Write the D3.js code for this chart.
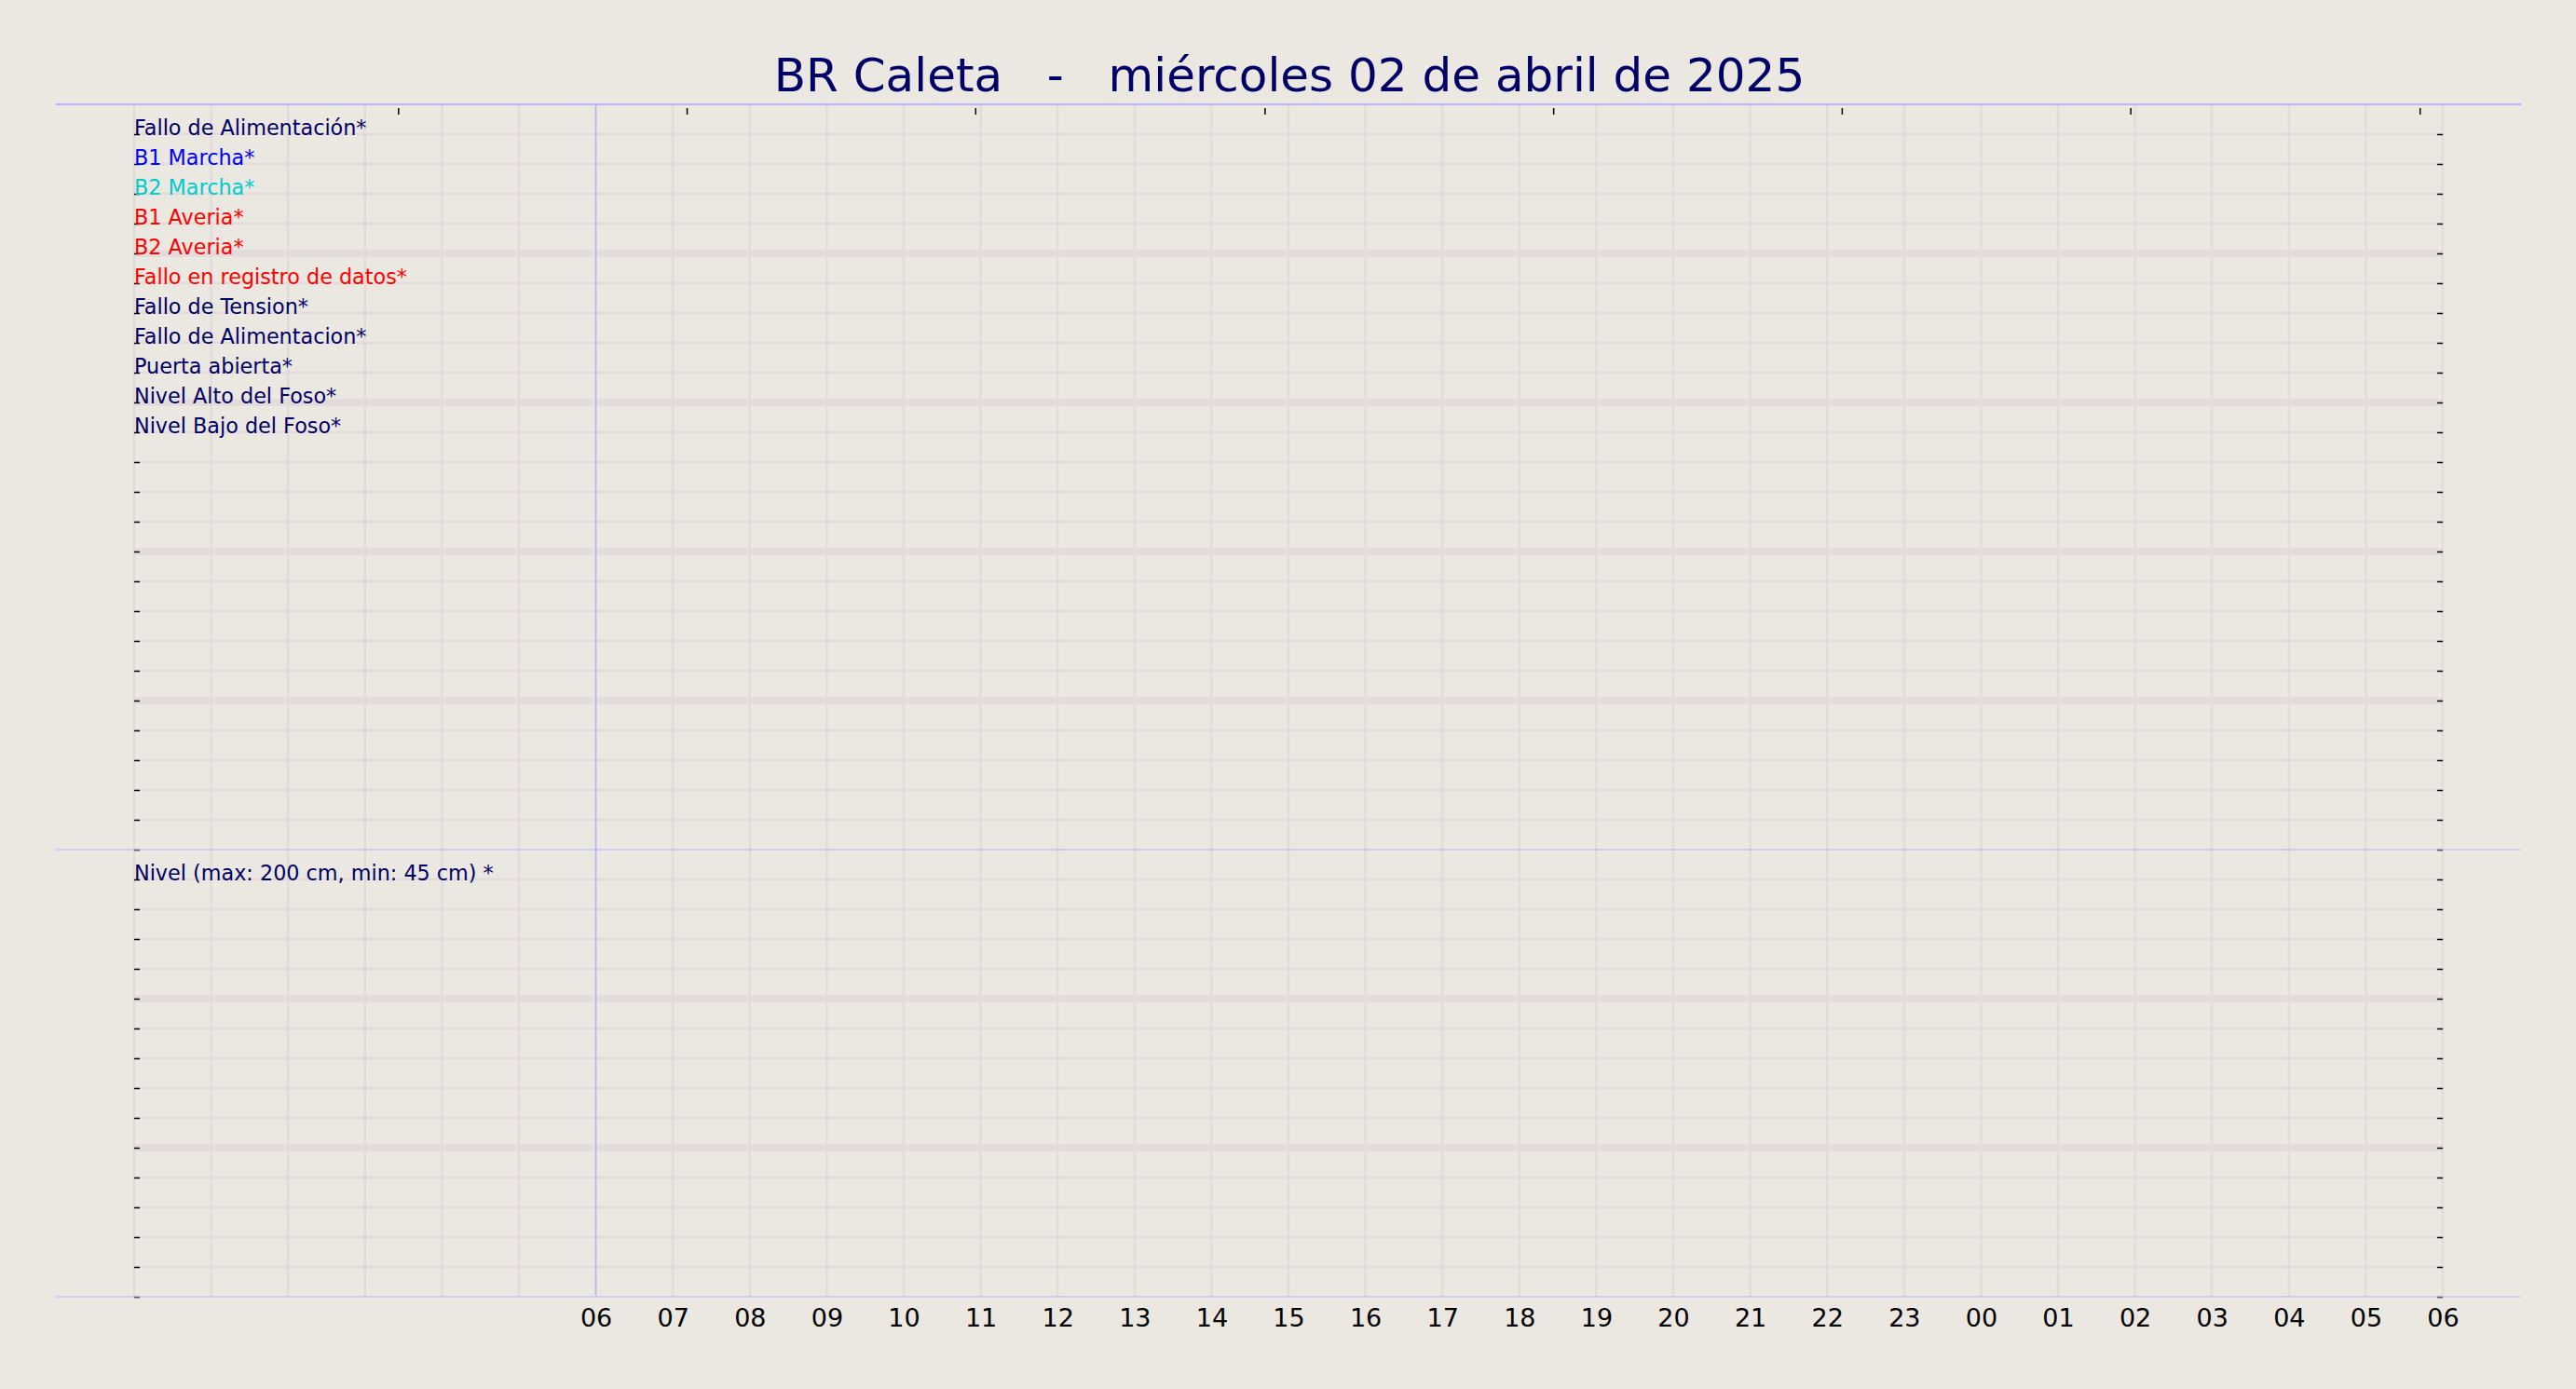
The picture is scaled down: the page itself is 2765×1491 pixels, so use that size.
<!DOCTYPE html>
<html>
<head>
<meta charset="utf-8">
<script src="https://cdn.jsdelivr.net/npm/d3@7"></script>
<style>
  body { margin: 0; background: #ebe7e1; }
  svg { display: block; font-family: "DejaVu Sans", sans-serif; }
</style>
</head>
<body>
<svg id="chart" width="2765" height="1491"></svg>
<script>
// chart data
const chartTitle = "BR Caleta   -   miércoles 02 de abril de 2025";
const signalNames = [
    "Fallo de Alimentación*", "B1 Marcha*", "B2 Marcha*", "B1 Averia*", "B2 Averia*",
    "Fallo en registro de datos*", "Fallo de Tension*", "Fallo de Alimentacion*",
    "Puerta abierta*", "Nivel Alto del Foso*", "Nivel Bajo del Foso*"
];
const signalColors = [
    "#000066", "#0000ff", "#00cccc", "#ff0000", "#ff0000",
    "#ff0000", "#000066", "#000066", "#000066", "#000066", "#000066"
];
const levelLabel = "Nivel (max: 200 cm, min: 45 cm) *";
const hourTicks = [6, 7, 8, 9, 10, 11, 12, 13, 14, 15, 16, 17, 18, 19, 20, 21, 22, 23, 24, 25, 26, 27, 28, 29, 30];
const hourLabels = ["06", "07", "08", "09", "10", "11", "12", "13", "14", "15", "16", "17", "18",
                    "19", "20", "21", "22", "23", "00", "01", "02", "03", "04", "05", "06"];
const topTicks = [3.43, 7.18, 10.93, 14.69, 18.44, 22.19, 25.94, 29.70];
const signalRows = 25;
const levelRows = 15;

const svg = d3.select("#chart");
const bg = "#ebe7e1";
const gridColor = "#e1dcdb";
const lineColor = "#b4b4ff";

let x = d3.scaleLinear().domain([0, 30]).range([144, 2622]);
let ySig = d3.scaleLinear().domain([0, signalRows]).range([112, 912]);
let yLev = d3.scaleLinear().domain([0, levelRows]).range([912, 1392]);

svg.append("rect").attr("width", 2765).attr("height", 1491).attr("fill", bg);

// grid
let grid = svg.append("g");
grid.selectAll(".vgrid")
    .data(d3.range(0, 31))
    .enter()
    .append("line")
    .attr("x1", d => x(d)).attr("x2", d => x(d))
    .attr("y1", 112).attr("y2", 1392)
    .attr("stroke", gridColor)
    .attr("stroke-width", 2.5);

function hRows(scale, n) {
    grid.append("g")
        .selectAll("line")
        .data(d3.range(1, n))
        .enter()
        .append("line")
        .attr("x1", x(0)).attr("x2", x(30))
        .attr("y1", d => scale(d)).attr("y2", d => scale(d))
        .attr("stroke", gridColor)
        .attr("stroke-width", d => d % 5 == 0 ? 7 : 2.5);
}
hRows(ySig, signalRows);
hRows(yLev, levelRows);

// inner ticks
function ticks(axis, tx, ty) {
    let g = svg.append("g")
        .attr("transform", "translate(" + tx + "," + ty + ")")
        .call(axis);
    g.select(".domain").remove();
    g.selectAll("line").attr("stroke", "#000").attr("stroke-width", 1.5);
    g.selectAll("text").remove();
}
ticks(d3.axisRight(ySig).tickValues(d3.range(1, signalRows)).tickSize(6), 144, 0);
ticks(d3.axisLeft(ySig).tickValues(d3.range(1, signalRows)).tickSize(6), 2622, 0);
ticks(d3.axisRight(yLev).tickValues(d3.range(0, levelRows + 1)).tickSize(6), 144, 0);
ticks(d3.axisLeft(yLev).tickValues(d3.range(0, levelRows + 1)).tickSize(6), 2622, 0);
ticks(d3.axisBottom(x).tickValues(topTicks).tickSize(7), 0, 116);

// frame lines
svg.append("line")
    .attr("x1", x(6)).attr("x2", x(6))
    .attr("y1", 112).attr("y2", 1390)
    .attr("stroke", lineColor).attr("stroke-width", 1.5);
[[112, 2], [912, 1.2], [1392, 1.2]].forEach(function(l) {
    svg.append("line")
        .attr("x1", 60).attr("x2", 2706)
        .attr("y1", l[0]).attr("y2", l[0])
        .attr("stroke", lineColor).attr("stroke-width", l[1]);
});

// hour axis
let xAxis = svg.append("g")
    .attr("transform", "translate(0,1392)")
    .call(d3.axisBottom(x).tickValues(hourTicks)
        .tickFormat((d, i) => hourLabels[i])
        .tickSize(0).tickPadding(13));
xAxis.select(".domain").remove();
xAxis.selectAll("text")
    .attr("font-family", "DejaVu Sans")
    .attr("font-size", 27)
    .attr("fill", "#000");

// signal labels
svg.append("g")
    .selectAll("text")
    .data(signalNames)
    .enter()
    .append("text")
    .attr("x", x(0))
    .attr("y", (d, i) => ySig(i + 1) + 0.5)
    .attr("font-size", 22.3)
    .attr("fill", (d, i) => signalColors[i])
    .text(d => d);

svg.append("text")
    .attr("x", x(0))
    .attr("y", yLev(1) + 0.5)
    .attr("font-size", 22.3)
    .attr("fill", "#000066")
    .text(levelLabel);

// title
svg.append("text")
    .attr("x", 1384)
    .attr("y", 98)
    .attr("text-anchor", "middle")
    .attr("font-size", 50)
    .attr("fill", "#000066")
    .style("white-space", "pre")
    .text(chartTitle);
</script>
</body>
</html>
